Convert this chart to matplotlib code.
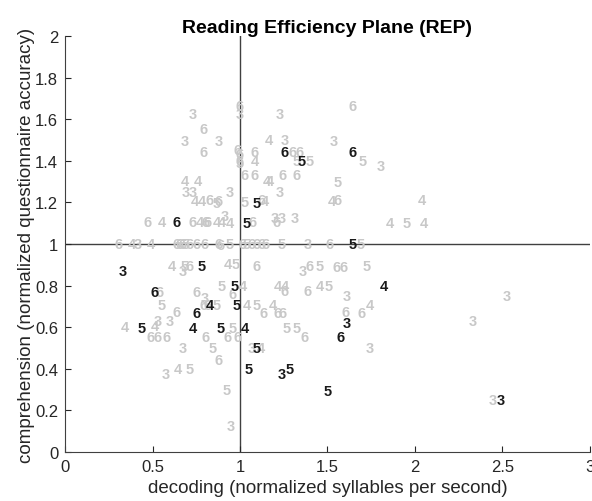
import matplotlib.pyplot as plt

plt.rcParams['font.family'] = ['Liberation Sans', 'DejaVu Sans']

# grey labels: all readers
grey_x = [1.0, 1.0, 0.731, 0.789, 0.686, 0.88, 0.794, 0.989, 1.0, 1.086,
          1.0, 1.0, 1.086, 1.029, 1.086, 1.646, 1.229, 1.166, 1.257, 1.537,
          1.303, 1.343, 1.326, 1.4, 1.703, 1.806, 1.246, 1.326, 1.154, 1.171,
          1.56, 1.229, 1.56, 1.526, 2.04, 1.029, 1.126, 1.143, 1.074, 1.2,
          1.211, 1.24, 1.314, 1.857, 1.954, 2.051, 0.686, 0.76, 0.691, 0.731,
          0.743, 0.783, 0.829, 0.88, 0.869, 0.943, 0.469, 0.554, 0.731, 0.771,
          0.806, 0.817, 0.869, 0.897, 0.943, 0.914,
          0.303, 0.383, 0.417, 0.491, 0.64, 0.657, 0.674, 0.691, 0.714, 0.749,
          0.8, 0.88, 0.891, 0.943, 1.017, 1.04, 1.069, 1.097, 1.126, 1.149,
          1.24, 1.389, 1.514, 1.691,
          0.611, 0.674, 0.686, 0.709, 0.931, 0.977, 1.097, 1.36, 1.4, 1.457,
          1.554, 1.594, 1.726,
          0.543, 0.754, 0.8, 0.897, 1.017, 0.96, 1.217, 1.257, 1.257, 1.389,
          1.457, 1.509, 1.611, 2.526,
          0.554, 0.64, 0.789, 0.817, 0.869, 1.04, 1.097, 1.189, 1.137, 1.217,
          1.246, 1.606, 1.697, 1.743,
          0.343, 0.514, 0.531, 0.6, 0.486, 0.531, 0.583, 0.806, 0.96, 0.931,
          0.989, 1.269, 1.326, 1.371, 2.331,
          0.674, 0.846, 0.88, 1.069, 1.12, 1.743, 0.577, 0.646, 0.714, 0.926,
          0.949, 2.446]
grey_y = [1.663, 1.624, 1.624, 1.552, 1.494, 1.494, 1.441, 1.451, 1.431, 1.441,
          1.398, 1.388, 1.398, 1.33, 1.33, 1.663, 1.624, 1.499, 1.499, 1.494,
          1.441, 1.441, 1.398, 1.398, 1.398, 1.373, 1.33, 1.33, 1.301, 1.301,
          1.296, 1.248, 1.214, 1.205, 1.21, 1.2, 1.21, 1.205, 1.108, 1.123,
          1.104, 1.123, 1.123, 1.099, 1.099, 1.099, 1.301, 1.301, 1.248, 1.248,
          1.205, 1.205, 1.21, 1.205, 1.195, 1.248, 1.108, 1.104, 1.108, 1.104,
          1.104, 1.104, 1.104, 1.104, 1.099, 1.133,
          1.0, 1.0, 1.0, 1.0, 1.0, 1.0, 1.0, 1.0, 1.0, 1.0,
          1.0, 1.002, 0.993, 1.0, 1.0, 1.0, 1.0, 1.0, 1.0, 1.0,
          1.0, 1.0, 1.0, 1.0,
          0.896, 0.872, 0.892, 0.892, 0.906, 0.906, 0.892, 0.872, 0.892, 0.896,
          0.887, 0.887, 0.896,
          0.771, 0.771, 0.742, 0.8, 0.8, 0.757, 0.8, 0.8, 0.776, 0.776,
          0.8, 0.8, 0.752, 0.752,
          0.704, 0.675, 0.704, 0.704, 0.704, 0.704, 0.704, 0.704, 0.67, 0.67,
          0.67, 0.675, 0.67, 0.704,
          0.602, 0.607, 0.627, 0.627, 0.554, 0.554, 0.554, 0.554, 0.598, 0.554,
          0.554, 0.598, 0.598, 0.554, 0.627,
          0.501, 0.501, 0.443, 0.501, 0.501, 0.501, 0.376, 0.4, 0.4, 0.299,
          0.125, 0.251]
grey_lab = ['6', '3', '3', '6', '3', '3', '6', '6', '6', '6',
            '6', '5', '4', '6', '6', '6', '3', '4', '3', '3',
            '6', '6', '5', '5', '5', '3', '6', '6', '4', '4',
            '5', '3', '6', '4', '4', '5', '6', '4', '6', '3',
            '6', '3', '3', '4', '5', '4', '4', '4', '3', '3',
            '4', '4', '6', '6', '5', '3', '6', '4', '6', '4',
            '6', '6', '4', '4', '4', '3',
            '6', '4', '3', '4', '6', '6', '6', '5', '6', '6',
            '6', '6', '6', '5', '6', '5', '6', '6', '6', '6',
            '5', '3', '6', '5',
            '4', '3', '5', '6', '4', '5', '6', '3', '6', '5',
            '6', '6', '5',
            '6', '6', '3', '5', '4', '6', '4', '4', '6', '6',
            '4', '5', '3', '3',
            '5', '6', '6', '6', '5', '4', '5', '4', '6', '6',
            '6', '6', '6', '4',
            '4', '4', '3', '3', '6', '6', '6', '6', '5', '6',
            '6', '5', '5', '6', '3',
            '3', '5', '6', '3', '4', '3', '3', '4', '5', '5',
            '3', '3']

# black labels: highlighted readers
dark_x = [1.257, 1.354, 1.646, 1.097, 0.64, 1.04, 1.646, 0.331, 0.783, 0.514,
          0.971, 1.823, 0.829, 0.754, 0.983, 0.44, 0.731, 0.891, 1.029, 1.611,
          1.577, 1.097, 1.051, 1.24, 1.286, 1.503, 2.491]
dark_y = [1.441, 1.398, 1.441, 1.195, 1.108, 1.099, 1.0, 0.872, 0.896, 0.771,
          0.8, 0.8, 0.704, 0.67, 0.704, 0.598, 0.598, 0.598, 0.598, 0.622,
          0.554, 0.501, 0.4, 0.376, 0.4, 0.294, 0.251]
dark_lab = ['6', '5', '6', '5', '6', '5', '5', '3', '5', '6',
            '5', '4', '4', '6', '5', '5', '4', '5', '4', '3',
            '6', '5', '5', '3', '5', '5', '3']

fig = plt.figure(figsize=(5.92, 5.02), dpi=100)
ax = fig.add_axes([0.11, 0.098, 0.886, 0.828])

ax.axvline(1, color='#404040', lw=1.0, zorder=1)
ax.axhline(1, color='#404040', lw=1.0, zorder=1)

for x, y, s in zip(grey_x, grey_y, grey_lab):
    ax.text(x, y, s, color='#c8c8c8', fontsize=10.5, fontweight='bold',
            ha='center', va='center', zorder=2)
for x, y, s in zip(dark_x, dark_y, dark_lab):
    ax.text(x, y, s, color='#1a1a1a', fontsize=10.5, fontweight='bold',
            ha='center', va='center', zorder=3)

ax.set_xlim(0, 3)
ax.set_ylim(0, 2)
ax.set_xticks([0, 0.5, 1, 1.5, 2, 2.5, 3])
ax.set_xticklabels(['0', '0.5', '1', '1.5', '2', '2.5', '3'])
ax.set_yticks([0, 0.2, 0.4, 0.6, 0.8, 1, 1.2, 1.4, 1.6, 1.8, 2])
ax.set_yticklabels(['0', '0.2', '0.4', '0.6', '0.8', '1', '1.2', '1.4',
                    '1.6', '1.8', '2'])
ax.tick_params(direction='in', length=4, colors='#262626', labelsize=12,
               pad=5)
for side in ['top', 'right']:
    ax.spines[side].set_visible(False)
for side in ['left', 'bottom']:
    ax.spines[side].set_color('#404040')

ax.set_xlabel('decoding (normalized syllables per second)', fontsize=13.5,
              color='#262626', labelpad=4)
ax.set_ylabel('comprehension (normalized questionnaire accuracy)', fontsize=13.5,
              color='#262626', labelpad=0)
ax.set_title('Reading Efficiency Plane (REP)', fontsize=14, fontweight='bold',
             pad=3)

plt.savefig('out.png', dpi=100)
